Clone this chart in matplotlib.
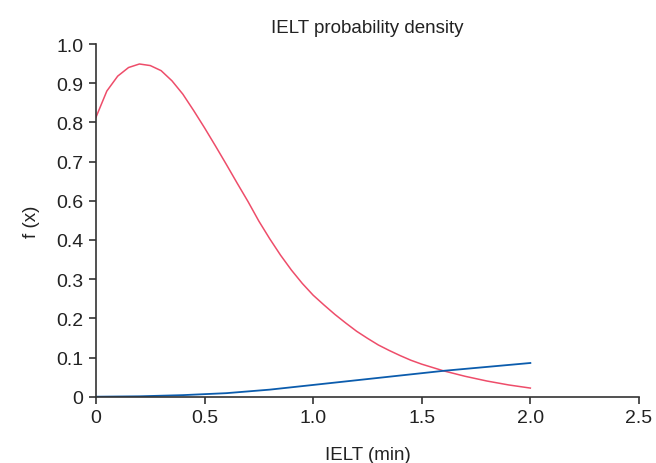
import numpy as np
import matplotlib
matplotlib.use("Agg")
from matplotlib import pyplot as plt

# values, in axis position units (0 .. 0.9)
x_red = [0.0, 0.05, 0.1, 0.15, 0.2, 0.25, 0.3, 0.35, 0.4, 0.45, 0.5, 0.55, 0.6, 0.65,
         0.7, 0.75, 0.8, 0.85, 0.9, 0.95, 1.0, 1.05, 1.1, 1.15, 1.2, 1.25, 1.3, 1.35,
         1.4, 1.45, 1.5, 1.6, 1.7, 1.8, 1.9, 2.0]
y_red = [0.713, 0.780, 0.818, 0.840, 0.849, 0.845, 0.832, 0.806, 0.772, 0.730, 0.686,
         0.640, 0.593, 0.545, 0.498, 0.448, 0.403, 0.361, 0.323, 0.289, 0.259, 0.234,
         0.210, 0.188, 0.167, 0.149, 0.132, 0.118, 0.105, 0.093, 0.083, 0.066, 0.052,
         0.040, 0.030, 0.022]
x_blue = [0.0, 0.2, 0.4, 0.6, 0.8, 1.0, 1.2, 1.4, 1.6, 1.8, 2.0]
y_blue = [0.0, 0.001, 0.004, 0.009, 0.018, 0.030, 0.042, 0.054, 0.066, 0.076, 0.086]

# the original axis skips 0.5 in its labels
ytick_pos = [0.0, 0.1, 0.2, 0.3, 0.4, 0.5, 0.6, 0.7, 0.8, 0.9]
ytick_labels = ["0", "0.1", "0.2", "0.3", "0.4", "0.6", "0.7", "0.8", "0.9", "1.0"]
xtick_pos = [0, 0.5, 1.0, 1.5, 2.0, 2.5]
xtick_labels = ["0", "0.5", "1.0", "1.5", "2.0", "2.5"]

plt.rcParams["font.family"] = "Liberation Sans"
axis_color = "#333333"
text_color = "#222222"

fig = plt.figure(figsize=(6.56, 4.64), dpi=100)
ax = fig.add_axes([0.1463, 0.1429, 0.974 - 0.1463, 0.903 - 0.1429])

ax.plot(x_red, y_red, color="#ee4d6a", linewidth=1.1)
ax.plot(x_blue, y_blue, color="#0b5cad", linewidth=1.3)

ax.set_xlim(0, 2.5)
ax.set_ylim(0, 0.9)
ax.set_xticks(xtick_pos)
ax.set_xticklabels(xtick_labels)
ax.set_yticks(ytick_pos)
ax.set_yticklabels(ytick_labels)

for side in ["top", "right"]:
    ax.spines[side].set_visible(False)
for side in ["left", "bottom"]:
    ax.spines[side].set_color(axis_color)
    ax.spines[side].set_linewidth(1.2)
ax.tick_params(axis="both", direction="out", length=5, width=1.2, color=axis_color,
               labelsize=14, labelcolor=text_color, pad=4)

ax.set_title("IELT probability density", fontsize=13.5, color=text_color, pad=9)
ax.set_xlabel("IELT (min)", fontsize=13.5, color=text_color, labelpad=14)
ax.set_ylabel("f (x)", fontsize=13.5, color=text_color, labelpad=12)

fig.savefig("out.png", dpi=100)
